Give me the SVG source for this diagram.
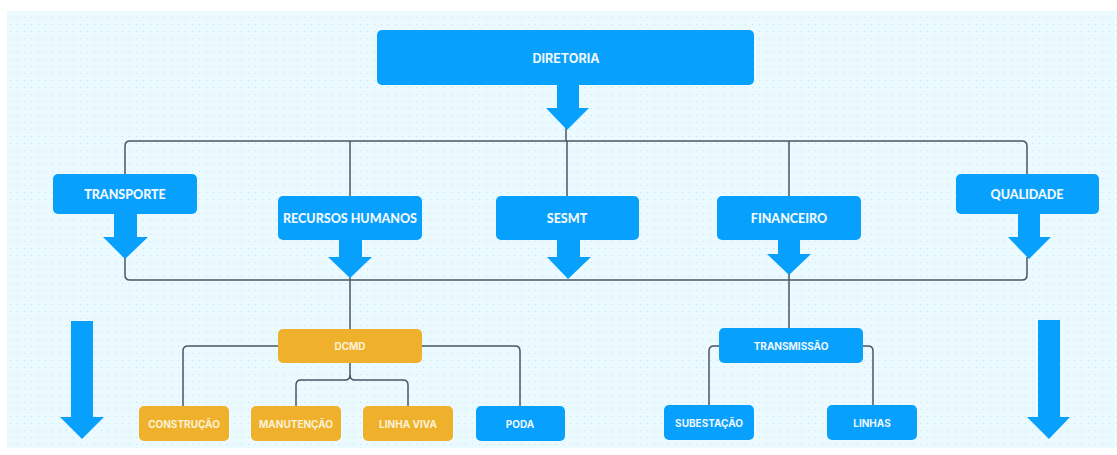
<svg xmlns="http://www.w3.org/2000/svg" width="1117" height="455" viewBox="0 0 1117 455">
<style>
.blue{fill:#07a1fd}
.orange{fill:#efb12b}
.arrow{fill:#07a1fd}
.conn{fill:none;stroke:#4b5563;stroke-width:1.5}
.t1{font-family:Lato,"Liberation Sans",sans-serif;font-weight:900;font-size:12.5px;fill:#f2f8ff;text-anchor:middle;dominant-baseline:central}
.t2{font-family:Inter,"Liberation Sans",sans-serif;font-weight:700;font-size:10px;fill:#eef6ff;text-anchor:middle;dominant-baseline:central}
.t3{font-family:Inter,"Liberation Sans",sans-serif;font-weight:700;font-size:10px;fill:#fdf1d8;text-anchor:middle;dominant-baseline:central}
</style>
<defs>
<pattern id="dots" x="0" y="0" width="7" height="7" patternUnits="userSpaceOnUse">
<circle cx="3.5" cy="3.5" r="0.8" fill="#d0e6f2"/>
</pattern>
</defs>
<rect x="0" y="0" width="1117" height="455" fill="#ffffff"/>
<rect x="7" y="11" width="1110" height="437" fill="#ebfaff"/>
<rect x="7" y="11" width="1110" height="437" fill="url(#dots)"/>

<g id="connectors">
<path class="conn" d="M566 128 V141"/>
<path class="conn" d="M125 174 V146 Q125 141 130 141 H1022 Q1027 141 1027 146 V174"/>
<path class="conn" d="M350 141 V196"/>
<path class="conn" d="M567 141 V196"/>
<path class="conn" d="M789 141 V196"/>
<path class="conn" d="M125 257 V275 Q125 280 130 280 H1022 Q1027 280 1027 275 V257"/>
<path class="conn" d="M350 276 V329"/>
<path class="conn" d="M789 273 V328"/>
<path class="conn" d="M278 346 H188 Q183 346 183 351 V406"/>
<path class="conn" d="M422 346 H515 Q520 346 520 351 V406"/>
<path class="conn" d="M350 363 V375 Q350 380 345 380 H301 Q296 380 296 385 V406"/>
<path class="conn" d="M350 375 Q350 380 355 380 H403 Q408 380 408 385 V406"/>
<path class="conn" d="M719 346 H714 Q709 346 709 351 V405"/>
<path class="conn" d="M863 346 H868 Q873 346 873 351 V405"/>
</g>

<g id="arrows">
<path class="arrow" d="M557 85 H579 V108 H589 L567 130 L546 108 H557 Z"/>
<path class="arrow" d="M114 214 H137 V237 H148 L125 259 L103 237 H114 Z"/>
<path class="arrow" d="M339 240 H362 V257 H372 L350 278 L328 257 H339 Z"/>
<path class="arrow" d="M557 240 H580 V257 H591 L568 279 L547 257 H557 Z"/>
<path class="arrow" d="M778 240 H800 V254 H811 L789 275 L767 254 H778 Z"/>
<path class="arrow" d="M1018 214 H1040 V237 H1051 L1029 259 L1008 237 H1018 Z"/>
<path class="arrow" d="M71 321 H93 V417 H104 L82 439 L60 417 H71 Z"/>
<path class="arrow" d="M1038 320 H1060 V417 H1070 L1049 439 L1027 417 H1038 Z"/>
</g>

<g id="diretoria"><rect class="blue" x="377" y="30" width="377" height="55" rx="5"/><text class="t2" x="566" y="58" style="font-size:12.5px">DIRETORIA</text></g>
<g id="transporte"><rect class="blue" x="53" y="174" width="144" height="40" rx="5"/><text class="t1" x="125" y="194">TRANSPORTE</text></g>
<g id="recursos-humanos"><rect class="blue" x="278" y="196" width="144" height="44" rx="5"/><text class="t1" x="350" y="218">RECURSOS HUMANOS</text></g>
<g id="sesmt"><rect class="blue" x="496" y="196" width="143" height="44" rx="5"/><text class="t1" x="567" y="218">SESMT</text></g>
<g id="financeiro"><rect class="blue" x="717" y="196" width="144" height="44" rx="5"/><text class="t1" x="789" y="218">FINANCEIRO</text></g>
<g id="qualidade"><rect class="blue" x="956" y="174" width="143" height="40" rx="5"/><text class="t1" x="1027" y="194">QUALIDADE</text></g>

<g id="dcmd"><rect class="orange" x="278" y="329" width="144" height="34" rx="5"/><text class="t3" x="350" y="346">DCMD</text></g>
<g id="transmissao"><rect class="blue" x="719" y="328" width="144" height="35" rx="5"/><text class="t2" x="791" y="346">TRANSMISSÃO</text></g>

<g id="construcao"><rect class="orange" x="139" y="406" width="90" height="35" rx="5"/><text class="t3" x="184" y="424">CONSTRUÇÃO</text></g>
<g id="manutencao"><rect class="orange" x="251" y="406" width="90" height="35" rx="5"/><text class="t3" x="296" y="424">MANUTENÇÃO</text></g>
<g id="linha-viva"><rect class="orange" x="363" y="406" width="90" height="35" rx="5"/><text class="t3" x="408" y="424">LINHA VIVA</text></g>
<g id="poda"><rect class="blue" x="476" y="406" width="89" height="35" rx="5"/><text class="t2" x="520" y="424">PODA</text></g>
<g id="subestacao"><rect class="blue" x="664" y="405" width="90" height="35" rx="5"/><text class="t2" x="709" y="423">SUBESTAÇÃO</text></g>
<g id="linhas"><rect class="blue" x="827" y="405" width="90" height="35" rx="5"/><text class="t2" x="872" y="423">LINHAS</text></g>
</svg>
